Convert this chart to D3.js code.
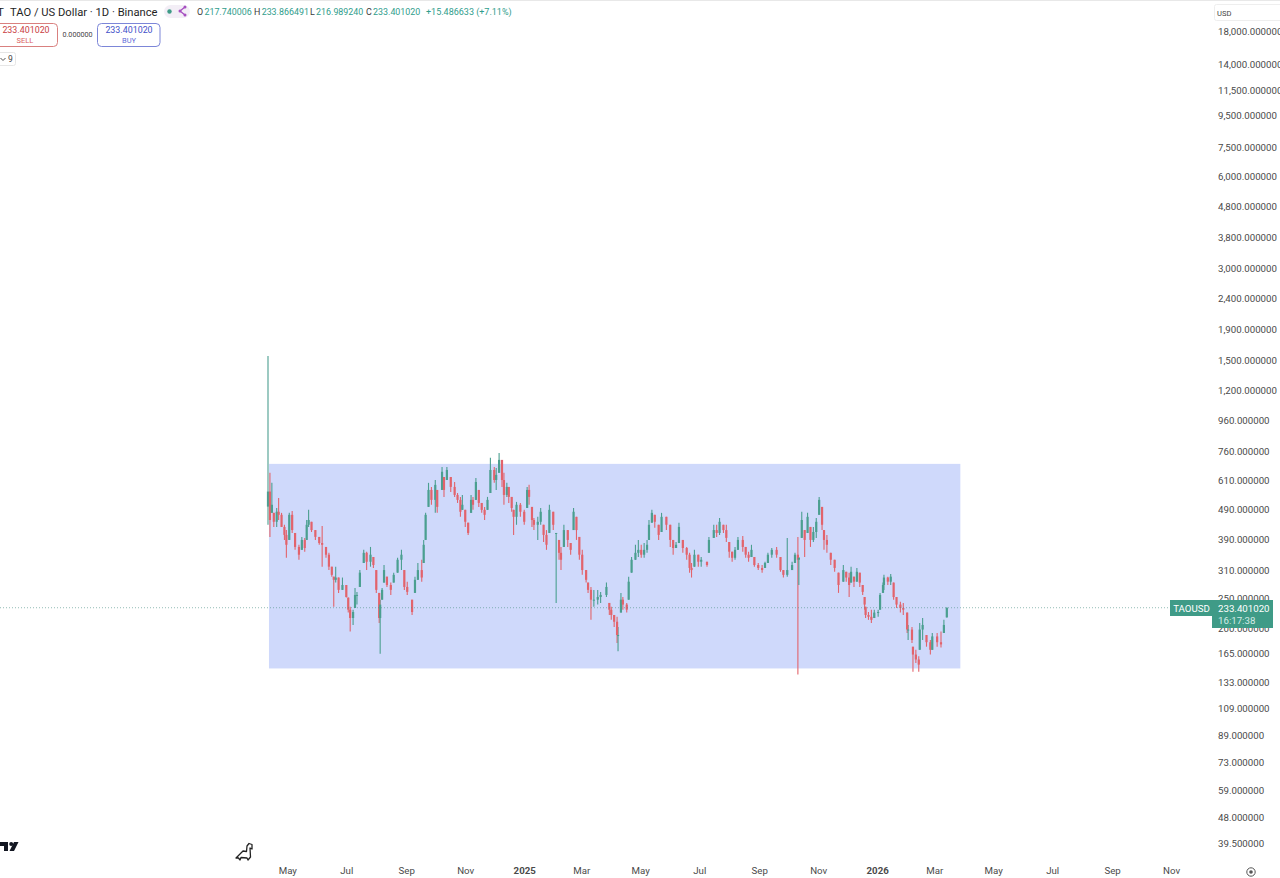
<!DOCTYPE html>
<html><head><meta charset="utf-8">
<script src="https://cdnjs.cloudflare.com/ajax/libs/d3/7.8.5/d3.min.js"></script>
<style>
html,body{margin:0;padding:0;background:#fff;overflow:hidden}
svg{display:block}
text{font-family:Roboto,"Noto Sans",sans-serif}
</style></head><body>
<svg id="c" width="1280" height="878"></svg>
<script>
// Sampled candles, days counted from the first bar (2024-04-10)
const startDate = "2024-04-10";
const days = [
0,2,4,6,9,11,14,17,19,22,
25,28,32,35,38,40,42,45,49,53,
56,60,63,66,68,70,73,77,81,83,
85,88,90,92,95,99,102,106,109,112,
115,116,118,120,123,127,130,134,138,141,
144,149,152,155,159,161,163,166,169,173,
175,180,182,185,189,193,196,199,201,204,
207,210,212,215,218,221,224,227,230,234,
236,239,
242,244,247,249,252,254,257,261,265,268,
270,273,275,279,282,285,288,291,295,298,
301,303,306,310,313,316,319,322,325,329,
331,334,337,341,344,350,353,355,358,361,
362,365,367,371,373,376,380,383,386,389,
392,394,397,400,404,407,412,416,419,422,
425,429,433,436,438,441,445,448,454,456,
461,464,467,471,474,477,
480,483,486,491,494,497,500,503,507,511,
514,517,521,526,530,533,537,542,545,548,
549,552,555,558,561,564,567,570,573,575,
578,582,586,590,595,598,601,603,606,609,
612,615,617,618,621,624,627,631,633,636,
637,641,644,647,650,654,657,661,662,666,
667,670,673,674,677,681,685,687,692,696,
699,702];
const highs = [
1555,645,598,477,495,534,477,436,419,477,
484,410,375,398,395,452,488,446,419,398,
432,369,353,318,295,318,293,293,277,252,
235,230,271,263,310,361,356,369,342,310,
261,248,271,322,295,282,304,340,361,310,
284,248,295,327,335,389,477,598,580,611,
567,674,625,674,625,602,554,538,546,488,
443,546,538,620,567,514,499,538,722,674,
669,749,
711,645,598,580,538,488,518,514,488,580,
589,499,459,463,495,436,419,507,481,410,
389,369,436,419,380,495,463,398,361,310,
282,273,267,267,263,282,242,235,221,218,
202,261,253,242,295,342,375,389,375,380,
389,452,488,470,436,477,463,436,389,383,
443,389,369,353,327,361,348,342,330,398,
436,436,459,436,436,383,
356,369,398,401,369,356,375,342,327,322,
330,353,366,369,342,310,395,330,353,398,
342,481,419,477,429,429,459,538,499,419,
404,353,335,304,322,306,304,318,295,315,
304,277,253,235,226,230,230,230,261,282,
299,295,301,282,253,244,242,225,205,202,
174,170,162,208,216,190,183,193,193,195,
213,233.866491];
const lows = [
436,398,477,429,429,452,429,389,340,389,
410,361,335,361,356,389,429,413,389,375,
318,340,310,295,235,282,261,267,252,225,
195,205,233,239,273,327,310,318,315,261,
208,165,248,282,273,257,282,304,310,267,
257,221,261,288,284,327,389,499,507,477,
477,567,538,611,558,538,514,463,488,429,
404,477,488,526,499,477,452,488,554,598,
567,645,
580,507,538,514,481,404,436,463,436,495,
507,429,419,389,436,383,361,410,419,242,
335,310,369,369,348,419,389,335,299,282,
261,213,235,239,242,253,221,213,202,179,
168,225,230,225,248,304,335,342,340,340,
353,389,443,426,389,413,419,369,348,366,
380,353,335,304,293,318,318,318,318,353,
395,398,404,410,383,340,
330,335,361,356,340,330,342,318,310,304,
315,327,340,340,306,293,295,310,327,141,
277,395,342,410,369,383,395,470,419,361,
353,322,306,261,284,284,253,282,273,284,
273,257,230,216,213,208,216,218,230,261,
267,277,277,248,233,225,221,193,183,179,
144,154,144,170,183,174,164,170,174,173,
193,216.98924];
const closes = [
560,452,507,446,481,470,429,404,375,470,
419,369,348,389,366,436,452,419,398,380,
375,348,318,299,288,293,267,277,253,230,
216,226,257,257,304,353,330,348,322,267,
216,239,267,310,277,267,299,335,348,273,
263,226,288,310,293,375,470,567,526,589,
499,650,567,659,580,546,526,481,507,446,
410,526,507,602,514,488,470,526,659,611,
635,711,
611,546,580,538,495,463,507,481,446,567,
538,452,436,446,481,404,375,488,436,410,
353,335,419,389,361,481,419,348,310,288,
267,248,248,253,257,273,230,221,210,190,
190,248,239,230,284,335,353,361,348,361,
375,436,477,446,404,463,436,389,366,375,
429,366,348,315,310,348,330,335,322,389,
419,410,446,419,395,356,
340,361,389,369,348,340,361,322,315,310,
327,348,361,348,310,299,310,322,348,335,
340,452,389,463,389,413,446,526,436,389,
375,335,315,277,310,293,277,306,284,306,
282,263,239,221,218,213,225,226,257,277,
293,284,295,253,239,233,230,198,198,183,
164,158,152,198,205,180,170,188,180,177,
205,233.40102];
const firstOpen = 500;
const rectTop = 690, rectBottom = 147.7, rectStart = "2024-04-11", rectEnd = "2026-03-27";
const lastPrice = 233.40102;
const priceTicks = [18000,14000,11500,9500,7500,6000,4800,3800,3000,2400,1900,1500,1200,960,760,610,490,390,310,250,200,165,133,109,89,73,59,48,39.5];
const timeTicks = ["2024-05-01","2024-07-01","2024-09-01","2024-11-01","2025-01-01","2025-03-01","2025-05-01","2025-07-01","2025-09-01","2025-11-01","2026-01-01","2026-03-01","2026-05-01","2026-07-01","2026-09-01","2026-11-01"];
const monthNames = ["Jan","Feb","Mar","Apr","May","Jun","Jul","Aug","Sep","Oct","Nov","Dec"];

const UP="#4b9f90", DOWN="#e2646c", LINK="#3f9b87";
const svg=d3.select("#c");
const defs=svg.append("defs");
defs.append("filter").attr("id","soft").attr("x","-5%").attr("y","-5%").attr("width","110%").attr("height","110%")
  .append("feGaussianBlur").attr("stdDeviation",0.4);
const x=d3.scaleUtc().domain([new Date(startDate),new Date("2026-11-01")]).range([268,1172.1]);
const y=d3.scaleLog().domain([18000,39.5]).range([31,843.5]);
const candles=days.map((d,i)=>{
  const o=Math.min(highs[i],Math.max(lows[i],i?closes[i-1]:firstOpen));
  return {t:d3.utcDay.offset(new Date(startDate),d),o,h:highs[i],l:lows[i],c:closes[i]};
});
const col=d=>d.c>=d.o?UP:DOWN;

// top hairline
svg.append("rect").attr("width",1280).attr("height",1).attr("fill","#e8e8e8");

// range rectangle
svg.append("rect")
 .attr("x",x(new Date(rectStart))).attr("width",x(new Date(rectEnd))-x(new Date(rectStart)))
 .attr("y",y(rectTop)).attr("height",y(rectBottom)-y(rectTop))
 .attr("fill","#cfd9fb");

const g=svg.append("g").attr("filter","url(#soft)");
g.selectAll("line").data(candles).join("line")
 .attr("x1",d=>x(d.t)).attr("x2",d=>x(d.t))
 .attr("y1",d=>y(d.h)).attr("y2",d=>y(d.l))
 .attr("stroke",col).attr("stroke-width",1.1);
g.selectAll("rect").data(candles).join("rect")
 .attr("x",d=>x(d.t)-1.1).attr("width",2.2)
 .attr("y",d=>y(Math.max(d.o,d.c)))
 .attr("height",d=>Math.max(1,Math.abs(y(d.o)-y(d.c))))
 .attr("fill",col);

// last price line
svg.append("line").attr("x1",0).attr("x2",1170).attr("y1",y(lastPrice)).attr("y2",y(lastPrice))
 .attr("stroke","#4d8f85").attr("stroke-width",1).attr("stroke-dasharray","1 2").attr("stroke-opacity",.6);

// price axis
const ya=svg.append("g").attr("transform","translate(1214,0)")
 .call(d3.axisRight(y).tickValues(priceTicks).tickSize(0).tickPadding(4).tickFormat(d3.format(",.6f")));
ya.select(".domain").remove();
ya.selectAll("text").attr("font-family","Roboto").style("font-size","9.7px").attr("fill","#4a4a4a");

// time axis
const xa=svg.append("g").attr("transform","translate(-1,866)")
 .call(d3.axisBottom(x).tickValues(timeTicks.map(s=>new Date(s))).tickSize(0).tickPadding(1)
   .tickFormat(d=>d.getUTCMonth()===0?String(d.getUTCFullYear()):monthNames[d.getUTCMonth()]));
xa.select(".domain").remove();
xa.selectAll("text").attr("font-family","Roboto").style("font-size","9.7px").attr("fill","#4a4a4a")
  .style("font-weight",d=>d.getUTCMonth()===0?"700":"400");

// price tags
svg.append("rect").attr("x",1170).attr("y",600).attr("width",43).attr("height",16).attr("fill",LINK);
svg.append("rect").attr("x",1212).attr("y",600).attr("width",61).attr("height",28).attr("fill",LINK);
const T=(s,px,py,size,fill,anchor,w)=>svg.append("text").text(s).attr("x",px).attr("y",py)
  .style("font-size",size+"px").attr("fill",fill).attr("text-anchor",anchor||"start").style("font-weight",w||400);
T("TAOUSD",1191.5,612,9.7,"#fff","middle");
T(d3.format(".6f")(lastPrice),1218,612,9.7,"#fff");
T("16:17:38",1218,624,9.7,"#d5ebe6");

// USD box
svg.append("rect").attr("x",1214.5).attr("y",4.5).attr("width",70).attr("height",16).attr("rx",2).attr("fill","#fff").attr("stroke","#eeeeee");
T("USD",1217,15.5,7.6,"#444");

// legend header
T("T",-3,16,11.5,"#222");
T("TAO / US Dollar · 1D · Binance",10,16,11.2,"#1f1f1f");
svg.append("rect").attr("x",164).attr("y",5).attr("width",26).attr("height",13).attr("rx",6.5).attr("fill","#f3eef6");
svg.append("circle").attr("cx",169.5).attr("cy",11.5).attr("r",2.2).attr("fill","#3f9b87");
svg.append("path").attr("d","M185 7 L180 11 L185 15").attr("fill","none").attr("stroke","#a64fc0").attr("stroke-width",1.3);
svg.append("circle").attr("cx",180).attr("cy",11).attr("r",1.5).attr("fill","#a64fc0");
svg.append("circle").attr("cx",185).attr("cy",7).attr("r",1.5).attr("fill","#a64fc0");
svg.append("circle").attr("cx",185).attr("cy",15).attr("r",1.5).attr("fill","#a64fc0");
const ohlc=[["O","217.740006",197],["H","233.866491",254],["L","216.989240",310],["C","233.401020",366]];
ohlc.forEach(([k,v,px])=>{
  const t=T("",px,15,8.9,"#3a3a3a");
  t.append("tspan").text(k);
  t.append("tspan").text(v).attr("fill","#2f9d8c").attr("dx",1.3);
});
T("+15.486633 (+7.11%)",426,15,9,"#2f9d8c");

// trade buttons
svg.append("rect").attr("x",-4.5).attr("y",23.5).attr("width",62).attr("height",23).attr("rx",4).attr("fill","#fff").attr("stroke","#d9807f");
svg.append("rect").attr("x",97.5).attr("y",23.5).attr("width",62.5).attr("height",23).attr("rx",4).attr("fill","#fff").attr("stroke","#7c86d8");
T("233.401020",26,33,8.9,"#c9403f","middle");
T("SELL",25,42.5,7.5,"#d9605f","middle");
T("0.000000",77.5,36.5,7.2,"#444","middle");
T("233.401020",129,33,8.9,"#3f4fc9","middle");
T("BUY",129,42.5,7.5,"#5f6cd9","middle");
svg.append("rect").attr("x",-4.5).attr("y",52.5).attr("width",20).attr("height",13).attr("rx",2).attr("fill","#fff").attr("stroke","#e6e6e6");
svg.append("path").attr("d","M0.5 58 L3 60.5 L5.5 58").attr("fill","none").attr("stroke","#555");
T("9",8,62,8.5,"#444");

// watermark logo
svg.append("path").attr("fill","#131722").attr("d","M0 842H8V851H4V846H0Z M18.5 842L14 851H9.5L14 842Z");
svg.append("circle").attr("cx",11.2).attr("cy",844).attr("r",2).attr("fill","#131722");

// dinosaur
svg.append("path").attr("fill","none").attr("stroke","#222").attr("stroke-width",1.3).attr("stroke-linejoin","round")
 .attr("d","M236 858 L243 851 L246.5 851.5 L247 846 L249 843.5 L252 844.5 L252 849 L250 848 L250.5 857 L248 860 L247 858 L241 857.5 L240 860 L238.5 858 Z");

// settings button
svg.append("circle").attr("cx",1251).attr("cy",872).attr("r",4.2).attr("fill","none").attr("stroke","#555").attr("stroke-width",1);
svg.append("circle").attr("cx",1251).attr("cy",872).attr("r",1.8).attr("fill","#555");
</script>
</body></html>
